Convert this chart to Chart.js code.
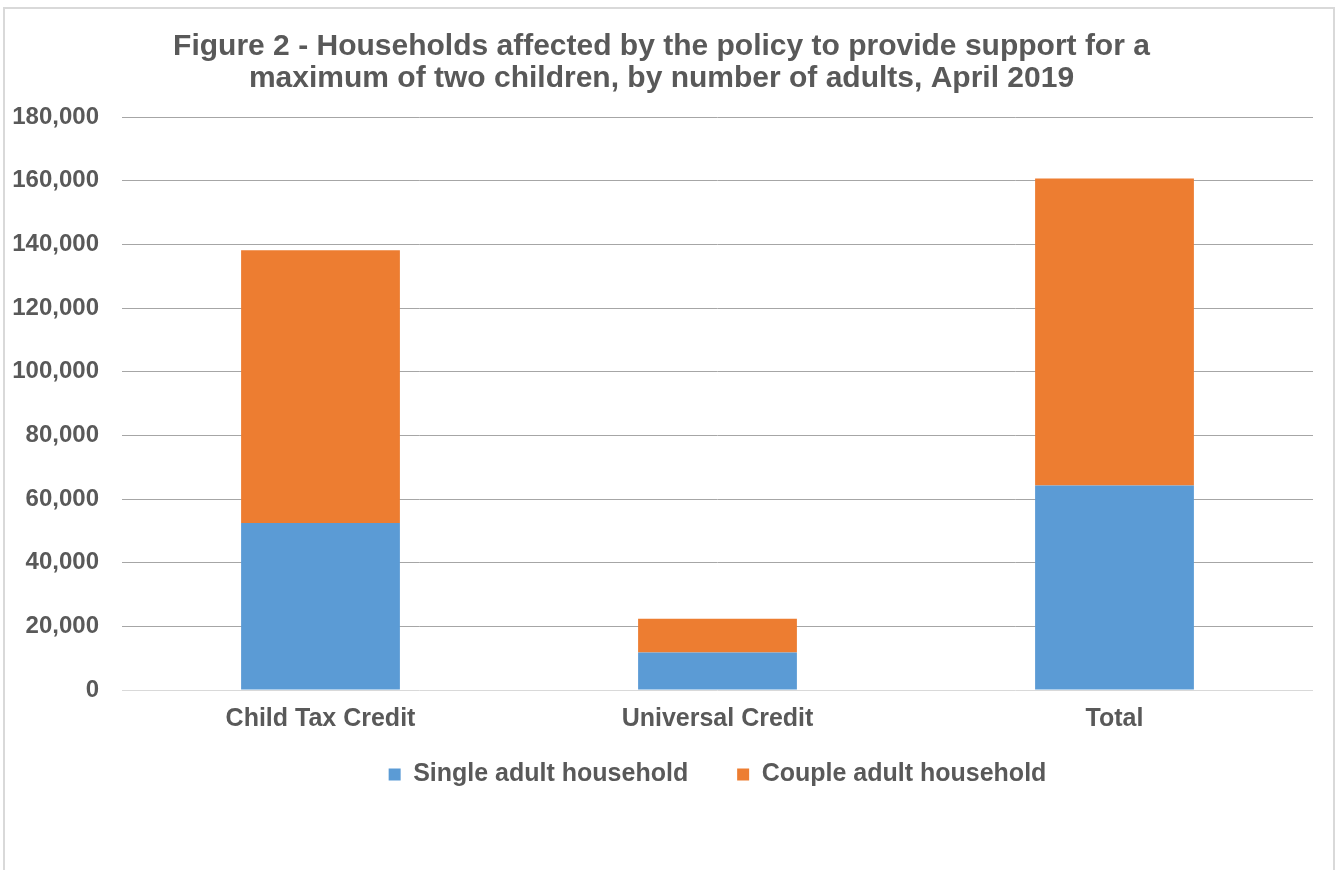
<!DOCTYPE html>
<html>
<head>
<meta charset="utf-8">
<script src="https://cdn.jsdelivr.net/npm/chart.js@4/dist/chart.umd.min.js"></script>
<style>
  html, body { margin: 0; padding: 0; background: #fff; overflow: hidden; }
  #frame {
    position: absolute; left: 3px; top: 7px; width: 1328px; height: 900px;
    border: 2px solid #d9d9d9;
  }
  #chart { position: absolute; left: 0; top: 0; }
</style>
</head>
<body>
<div id="frame"></div>
<canvas id="chart" width="1336" height="870"></canvas>
<script>
// Data
const categories = ["Child Tax Credit", "Universal Credit", "Total"];
const singleAdult = [52500, 11800, 64300];
const coupleAdult = [85700, 10600, 96400];
const yTicks = [0, 20000, 40000, 60000, 80000, 100000, 120000, 140000, 160000, 180000];

const textColor = "#595959";
const fontFamily = "'Liberation Sans', Arial, sans-serif";

// legend sits under the plot area, nudged up (Excel-style placement)
const legendPlacement = {
  id: "legendPlacement",
  afterLayout(chart) {
    const lg = chart.legend;
    const area = chart.chartArea;
    lg.left = area.left;
    lg.right = area.right;
    lg.top -= 35;
    lg.bottom -= 35;
  }
};

const chart = new Chart(document.getElementById("chart"), {
  type: "bar",
  data: {
    labels: categories,
    datasets: [
      {
        label: "Single adult household",
        data: singleAdult,
        backgroundColor: "#5b9bd5",
        barPercentage: 0.4,
        categoryPercentage: 1
      },
      {
        label: "Couple adult household",
        data: coupleAdult,
        backgroundColor: "#ed7d31",
        barPercentage: 0.4,
        categoryPercentage: 1
      }
    ]
  },
  options: {
    responsive: false,
    animation: false,
    layout: { padding: { left: 10, right: 23, top: 0, bottom: 38 } },
    plugins: {
      title: {
        display: true,
        text: [
          "Figure 2 - Households affected by the policy to provide support for a",
          "maximum of two children, by number of adults, April 2019"
        ],
        color: textColor,
        font: { family: fontFamily, size: 30, weight: "bold", lineHeight: 1.07 },
        padding: { top: 31, bottom: 22 }
      },
      legend: {
        position: "bottom",
        labels: {
          color: textColor,
          font: { family: fontFamily, size: 25, weight: "bold" },
          boxWidth: 12,
          boxHeight: 12,
          padding: 49
        }
      },
      tooltip: { enabled: false }
    },
    scales: {
      x: {
        stacked: true,
        grid: { display: false, drawTicks: false },
        border: { display: false },
        ticks: {
          color: textColor,
          font: { family: fontFamily, size: 25, weight: "bold", lineHeight: 1.2 },
          padding: 14
        }
      },
      y: {
        stacked: true,
        min: 0,
        max: 180000,
        afterBuildTicks: function (scale) {
          scale.ticks = yTicks.map(v => ({ value: v }));
        },
        grid: {
          drawTicks: false,
          color: ctx => (ctx.tick && ctx.tick.value === 0) ? "#d9d9d9" : "#a6a6a6",
          lineWidth: 1
        },
        border: { display: false },
        ticks: {
          color: textColor,
          font: { family: fontFamily, size: 24, weight: "bold" },
          padding: 23,
          callback: v => v.toLocaleString("en-US")
        },
        afterFit: function (scale) { scale.width = 112; }
      }
    }
  },
  plugins: [legendPlacement]
});
</script>
</body>
</html>
